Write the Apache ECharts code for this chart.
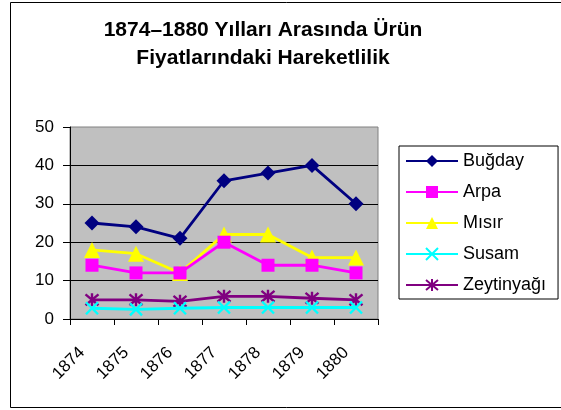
<!DOCTYPE html>
<html>
<head>
<meta charset="utf-8">
<script src="https://cdn.jsdelivr.net/npm/echarts@6/dist/echarts.min.js"></script>
<style>html,body{margin:0;padding:0;background:#fff;}#c{width:561px;height:410px;}</style>
</head>
<body>
<div id="c"></div>
<script>
const years = ['1874', '1875', '1876', '1877', '1878', '1879', '1880'];
const seriesNames = ['Buğday', 'Arpa', 'Mısır', 'Susam', 'Zeytinyağı'];
const bugday = [25, 24, 21, 36, 38, 40, 30];
const arpa = [14, 12, 12, 20, 14, 14, 12];
const misir = [18, 17, 12, 22, 22, 16, 16];
const susam = [2.8, 2.5, 2.8, 3, 3, 3, 3];
const zeytinyagi = [5, 5, 4.6, 5.9, 5.9, 5.4, 5];
const yTicks = [0, 10, 20, 30, 40, 50];
const titleLines = ['1874–1880 Yılları Arasında Ürün', 'Fiyatlarındaki Hareketlilik'];

const FONT = '"Liberation Sans", Arial, sans-serif';
const colors = ['#000080', '#FF00FF', '#FFFF00', '#00FFFF', '#800080'];
const symbols = ['diamond', 'rect', 'triangle',
  'path://M0,0L10,10M10,0L0,10',
  'path://M0,0L10,10M10,0L0,10M5,-1L5,11'];
const sizes = [15, 13, 16, 12, 13];
const values = [bugday, arpa, misir, susam, zeytinyagi];

const chart = echarts.init(document.getElementById('c'), null, {renderer: 'canvas'});
const series = seriesNames.map((name, i) => {
  const stroked = i >= 3;
  return {
    name: name,
    type: 'line',
    data: values[i],
    symbol: symbols[i],
    symbolSize: sizes[i],
    showAllSymbol: true,
    lineStyle: {color: colors[i], width: 2.8},
    itemStyle: stroked
      ? {color: colors[i], borderColor: colors[i], borderWidth: 2.4}
      : {color: colors[i], borderWidth: 0},
    emphasis: {disabled: true},
    animation: false,
    z: 2 + (4 - i)
  };
});

chart.setOption({
  animation: false,
  title: {
    text: titleLines.join('\n'),
    left: 258,
    top: 11,
    textAlign: 'center',
    textStyle: {fontFamily: FONT, fontWeight: 'bold', fontSize: 21, lineHeight: 28, color: '#000'}
  },
  graphic: [{
    type: 'rect',
    shape: {x: 10.5, y: 2.5, width: 560, height: 405},
    style: {fill: null, stroke: '#000', lineWidth: 1},
    silent: true
  }],
  legend: {
    orient: 'vertical',
    left: 399,
    top: 146,
    data: seriesNames,
    itemWidth: 52,
    itemHeight: 15,
    itemGap: 13,
    padding: [6, 12, 5, 6],
    borderColor: '#000',
    borderWidth: 1,
    backgroundColor: '#fff',
    textStyle: {fontFamily: FONT, fontSize: 18, lineHeight: 18, color: '#000'}
  },
  grid: {
    left: 70, top: 127, right: 183, bottom: 91,
    show: true, backgroundColor: '#C0C0C0', borderColor: '#808080', borderWidth: 1,
    containLabel: false
  },
  xAxis: {
    type: 'category',
    data: years,
    boundaryGap: true,
    axisLine: {show: true, lineStyle: {color: '#000', width: 1}},
    axisTick: {show: true, inside: false, length: 6, alignWithLabel: false, interval: 0, lineStyle: {color: '#000'}},
    axisLabel: {
      interval: 0, rotate: 45, margin: 21,
      fontFamily: FONT, fontSize: 17, color: '#000',
      padding: [0, 14, 0, 0]
    },
    splitLine: {show: false}
  },
  yAxis: {
    type: 'value',
    min: yTicks[0], max: yTicks[yTicks.length - 1], interval: 10,
    axisLine: {show: true, lineStyle: {color: '#000', width: 1}},
    axisTick: {show: true, inside: false, length: 7, lineStyle: {color: '#000'}},
    axisLabel: {margin: 16, fontFamily: FONT, fontSize: 17, color: '#000'},
    splitLine: {show: true, showMaxLine: false, lineStyle: {color: '#000', width: 1}}
  },
  series: series
});
</script>
</body>
</html>
